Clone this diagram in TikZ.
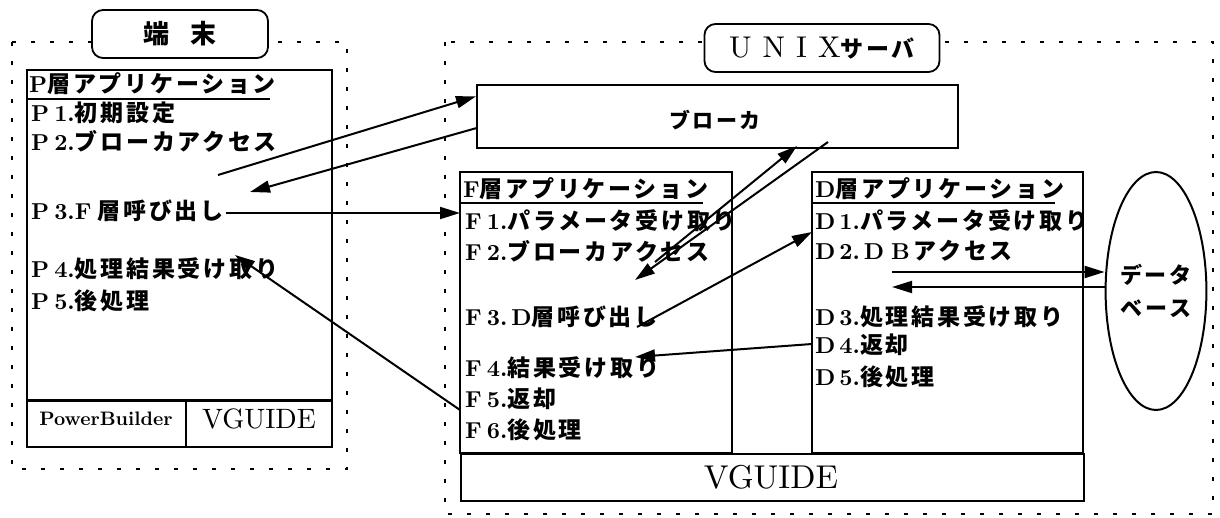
\documentclass[tikz,border=0pt]{standalone}
\usepackage{fontspec}
\setmainfont{lmroman10-regular}[Extension=.otf, BoldFont=lmroman10-bold, ItalicFont=lmroman10-italic]
\usetikzlibrary{arrows.meta,calc,shapes.geometric}
\newfontfamily\jp[LetterSpace=12]{Noto Sans CJK JP}
\newcommand\J[1]{{\jp\bfseries #1}}
\begin{document}
\begin{tikzpicture}[x=1pt,y=-1pt,
  box/.style={draw, line width=2pt},
  txt/.style={anchor=base west, inner sep=0pt, font=\fontsize{23}{26}\selectfont\bfseries},
  dotb/.style={line width=2.5pt, dash pattern=on 4pt off 15pt},
  lbl/.style={draw, line width=1.8pt, rounded corners=11pt, fill=white, inner sep=0pt},
  arr/.style={line width=2pt, -{Triangle[length=20pt,width=12pt]}},
  uline/.style={line width=2pt}]
\useasboundingbox (0,0) rectangle (1220,518);

% dotted regions
\draw[dotb] (12,42) rectangle (347,469);
\draw[dotb] (445,42) rectangle (1213,514);

% labels
\node[lbl, minimum width=176pt, minimum height=48pt, font=\fontsize{26}{30}\selectfont] (tanmatsu) at (180,34) {\J{端}\hspace{22pt}\J{末}};
\node[lbl, minimum width=235pt, minimum height=48pt, font=\fontsize{30}{32}\selectfont] (unix) at (822,48)
  {U\hspace{11pt}N\hspace{11pt}I\hspace{11pt}X{\fontsize{23}{26}\selectfont\J{サーバ}}};

% P box
\draw[box] (27,70) rectangle (332,447);
\draw[line width=3pt] (27,400) -- (332,400);
\draw[box] (186,400) -- (186,447);
\node[inner sep=0pt, font=\fontsize{19.5}{24}\selectfont\bfseries] (pb) at (106,419) {PowerBuilder};
\node[inner sep=0pt, font=\fontsize{28}{30}\selectfont] (pvg) at (259,419) {VGUIDE};

\node[txt] (ph) at (29,93) {P\J{層アプリケーション}};
\draw[uline] (27,99) -- (270,99);
\node[txt] (p1) at (31,122) {P\hspace{5pt}1.\J{初期設定}};
\node[txt] (p2) at (31,151) {P\hspace{5pt}2.\J{ブローカアクセス}};
\node[txt] (p3) at (31,220) {P\hspace{5pt}3.F\hspace{6pt}\J{層呼び出し}};
\node[txt] (p4) at (31,278) {P\hspace{5pt}4.\J{処理結果受け取り}};
\node[txt] (p5) at (31,310) {P\hspace{5pt}5.\J{後処理}};

% broker
\node[box, minimum width=481pt, minimum height=63pt, inner sep=0pt] (broker) at (717.5,116.5) {};
\node[inner sep=0pt, font=\fontsize{21}{24}\selectfont] (brokert) at (715,120) {\J{ブローカ}};

% F box, D box, VGUIDE
\draw[box] (460,172) rectangle (732,453);
\draw[box] (812,172) rectangle (1083,453);
\node[box, minimum width=623pt, minimum height=47pt, inner sep=0pt, anchor=north west] (vg) at (460,453) {};
\node[inner sep=0pt, font=\fontsize{33}{36}\selectfont] (vgt) at (771,477) {VGUIDE};

\node[txt] (fh) at (463,198) {F\J{層アプリケーション}};
\draw[uline] (460,203) -- (703,203);
\node[txt] (f1) at (465,230) {F\hspace{5pt}1.\J{パラメータ受け取り}};
\node[txt] (f2) at (465,261) {F\hspace{5pt}2.\J{ブローカアクセス}};
\node[txt] (f3) at (465,326) {F\hspace{5pt}3.\,D\J{層呼び出し}};
\node[txt] (f4) at (465,376) {F\hspace{5pt}4.\J{結果受け取り}};
\node[txt] (f5) at (465,407) {F\hspace{5pt}5.\J{返却}};
\node[txt] (f6) at (465,438) {F\hspace{5pt}6.\J{後処理}};

\node[txt] (dh) at (815,198) {D\J{層アプリケーション}};
\draw[uline] (812,203) -- (1055,203);
\node[txt] (d1) at (815,230) {D\hspace{4pt}1.\J{パラメータ受け取り}};
\node[txt] (d2) at (815,260) {D\hspace{4pt}2.\,D\hspace{7pt}B\,\J{アクセス}};
\node[txt] (d3) at (815,326) {D\hspace{4pt}3.\J{処理結果受け取り}};
\node[txt] (d4) at (815,353) {D\hspace{4pt}4.\J{返却}};
\node[txt] (d5) at (815,385) {D\hspace{4pt}5.\J{後処理}};

% database
\node[ellipse, draw, line width=2pt, minimum width=82pt, minimum height=238pt, inner sep=0pt,
  align=center, font=\fontsize{22}{33}\selectfont] (db) at (1156,291) {\J{データ}\\\J{ベース}};

% arrow end points
\coordinate (a1s) at (218,175);
\coordinate (a2e) at (250,192);
\coordinate (a4e) at (235,255);
\coordinate (a5s) at (655,262);
\coordinate (a6e) at (635,280);
\coordinate (a7s) at (637,327);
\coordinate (a8e) at (635,357);
\coordinate (a9s) at (892,272);
\coordinate (a10e) at (892,287);

% arrows
\draw[arr] (a1s) -- ($(broker.north west)!0.19!(broker.south west)$);
\draw[arr] ($(broker.north west)!0.68!(broker.south west)$) -- (a2e);
\draw[arr] ($(p3.base east)+(2,-7)$) -- (460,213);
\draw[arr] (460,410) -- (a4e);
\draw[arr] (a5s) -- (797,146);
\draw[arr] (828,142) -- (a6e);
\draw[arr] (a7s) -- (812,232);
\draw[arr] (812,344) -- (a8e);
\draw[arr] (a9s) -- (db.west |- a9s);
\draw[arr] (db.west |- a10e) -- (a10e);
\end{tikzpicture}
\end{document}
